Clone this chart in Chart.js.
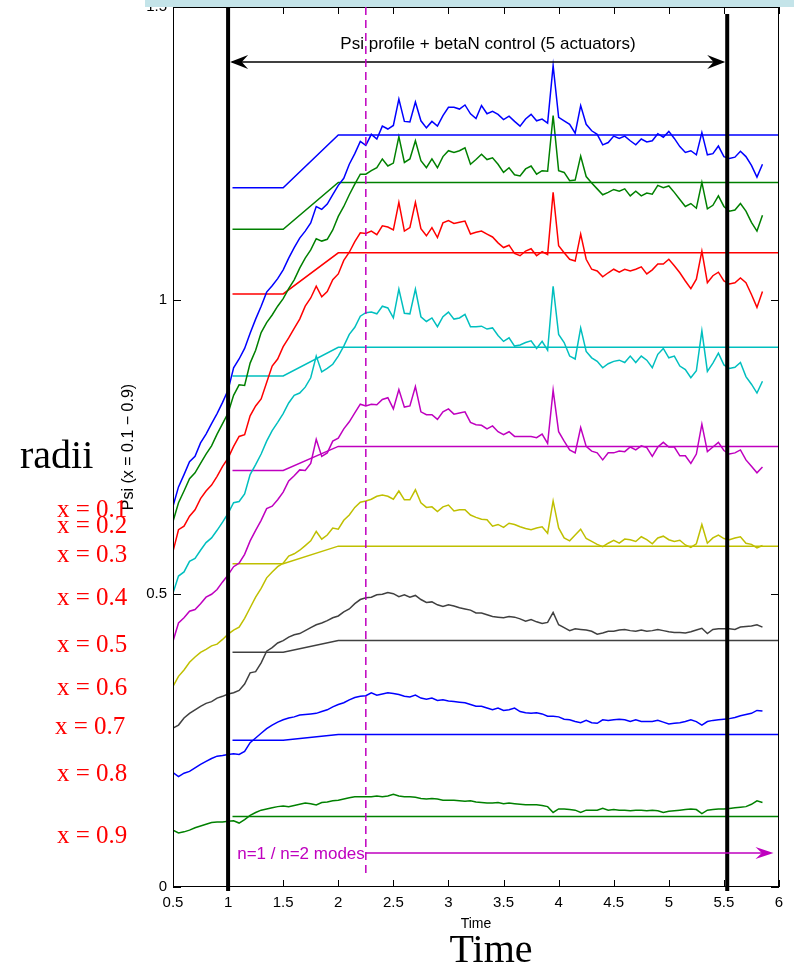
<!DOCTYPE html>
<html>
<head>
<meta charset="utf-8">
<script src="https://cdn.jsdelivr.net/npm/chart.js@4.4.1/dist/chart.umd.min.js"></script>
<style>
  html, body { margin: 0; padding: 0; background: #fff; }
  canvas { display: block; }
</style>
</head>
<body>
<canvas id="psiChart" width="794" height="968"></canvas>
<script>
// sample times (s)
const time = [
  0.5, 0.55, 0.6, 0.65, 0.7, 0.75, 0.8, 0.85, 0.9, 0.95,
  1.0, 1.05, 1.1, 1.15, 1.2, 1.25, 1.3, 1.35, 1.4, 1.45,
  1.5, 1.55, 1.6, 1.65, 1.7, 1.75, 1.8, 1.85, 1.9, 1.95,
  2.0, 2.05, 2.1, 2.15, 2.2, 2.25, 2.3, 2.35, 2.4, 2.45,
  2.5, 2.55, 2.6, 2.65, 2.7, 2.75, 2.8, 2.85, 2.9, 2.95,
  3.0, 3.05, 3.1, 3.15, 3.2, 3.25, 3.3, 3.35, 3.4, 3.45,
  3.5, 3.55, 3.6, 3.65, 3.7, 3.75, 3.8, 3.85, 3.9, 3.95,
  4.0, 4.05, 4.1, 4.15, 4.2, 4.25, 4.3, 4.35, 4.4, 4.45,
  4.5, 4.55, 4.6, 4.65, 4.7, 4.75, 4.8, 4.85, 4.9, 4.95,
  5.0, 5.05, 5.1, 5.15, 5.2, 5.25, 5.3, 5.35, 5.4, 5.45,
  5.5, 5.55, 5.6, 5.65, 5.7, 5.75, 5.8, 5.85
];

// measured Psi at each radius
const psi01 = [
  0.649, 0.682, 0.703, 0.725, 0.734, 0.757, 0.772, 0.790, 0.807, 0.826,
  0.847, 0.885, 0.900, 0.918, 0.944, 0.968, 0.990, 1.014, 1.025, 1.037,
  1.052, 1.072, 1.090, 1.106, 1.118, 1.132, 1.160, 1.155, 1.164, 1.180,
  1.196, 1.208, 1.232, 1.250, 1.271, 1.264, 1.283, 1.275, 1.297, 1.292,
  1.298, 1.343, 1.305, 1.304, 1.338, 1.306, 1.294, 1.305, 1.297, 1.315,
  1.329, 1.329, 1.326, 1.333, 1.318, 1.310, 1.332, 1.318, 1.322, 1.317,
  1.308, 1.314, 1.305, 1.297, 1.309, 1.317, 1.306, 1.309, 1.302, 1.400,
  1.312, 1.306, 1.300, 1.285, 1.332, 1.300, 1.289, 1.283, 1.265, 1.269,
  1.280, 1.276, 1.280, 1.272, 1.265, 1.275, 1.270, 1.272, 1.284, 1.278,
  1.288, 1.276, 1.262, 1.252, 1.255, 1.248, 1.286, 1.248, 1.250, 1.263,
  1.245, 1.242, 1.244, 1.254, 1.245, 1.230, 1.210, 1.232
];
const psi02 = [
  0.623, 0.655, 0.675, 0.696, 0.706, 0.722, 0.738, 0.752, 0.772, 0.790,
  0.808, 0.838, 0.856, 0.855, 0.893, 0.915, 0.945, 0.962, 0.975, 0.990,
  1.003, 1.020, 1.035, 1.055, 1.072, 1.086, 1.105, 1.101, 1.104, 1.120,
  1.143, 1.160, 1.180, 1.198, 1.215, 1.215, 1.221, 1.226, 1.241, 1.229,
  1.234, 1.279, 1.235, 1.241, 1.272, 1.238, 1.226, 1.241, 1.226, 1.245,
  1.255, 1.252, 1.255, 1.260, 1.232, 1.240, 1.249, 1.240, 1.243, 1.232,
  1.218, 1.226, 1.214, 1.212, 1.224, 1.229, 1.215, 1.221, 1.220, 1.315,
  1.221, 1.218, 1.204, 1.205, 1.246, 1.211, 1.200, 1.190, 1.180, 1.184,
  1.189, 1.186, 1.190, 1.178, 1.186, 1.178, 1.183, 1.181, 1.196, 1.192,
  1.195, 1.184, 1.172, 1.160, 1.165, 1.157, 1.201, 1.156, 1.162, 1.178,
  1.160, 1.152, 1.154, 1.165, 1.152, 1.133, 1.118, 1.145
];
const psi03 = [
  0.572, 0.609, 0.615, 0.632, 0.643, 0.662, 0.675, 0.685, 0.700, 0.717,
  0.731, 0.751, 0.768, 0.771, 0.803, 0.820, 0.832, 0.860, 0.888, 0.900,
  0.921, 0.936, 0.952, 0.968, 0.990, 1.004, 1.024, 1.006, 1.015, 1.035,
  1.045, 1.068, 1.082, 1.100, 1.115, 1.114, 1.118, 1.112, 1.127, 1.125,
  1.120, 1.167, 1.118, 1.124, 1.167, 1.122, 1.110, 1.124, 1.107, 1.132,
  1.136, 1.131, 1.133, 1.135, 1.113, 1.116, 1.118, 1.113, 1.108, 1.098,
  1.090, 1.094, 1.080, 1.076, 1.084, 1.088, 1.076, 1.083, 1.078, 1.184,
  1.093, 1.081, 1.070, 1.067, 1.113, 1.070, 1.053, 1.050, 1.040, 1.047,
  1.053, 1.048, 1.053, 1.050, 1.053, 1.057, 1.045, 1.052, 1.062, 1.062,
  1.070, 1.059, 1.047, 1.033, 1.020, 1.036, 1.084, 1.030, 1.042, 1.048,
  1.033, 1.028, 1.030, 1.038, 1.030, 1.010, 0.988, 1.015
];
const psi04 = [
  0.501, 0.530, 0.537, 0.555, 0.560, 0.574, 0.587, 0.595, 0.608, 0.622,
  0.637, 0.655, 0.657, 0.670, 0.703, 0.720, 0.738, 0.760, 0.778, 0.792,
  0.807, 0.825, 0.838, 0.842, 0.852, 0.868, 0.905, 0.878, 0.884, 0.891,
  0.905, 0.922, 0.942, 0.954, 0.973, 0.979, 0.980, 0.977, 0.990, 0.987,
  0.970, 1.019, 0.978, 0.977, 1.019, 0.972, 0.964, 0.970, 0.955, 0.972,
  0.980, 0.968, 0.970, 0.976, 0.955, 0.955, 0.956, 0.951, 0.953, 0.940,
  0.930, 0.936, 0.922, 0.924, 0.928, 0.931, 0.918, 0.930, 0.915, 1.024,
  0.942, 0.928, 0.905, 0.900, 0.953, 0.913, 0.902, 0.896, 0.885, 0.892,
  0.896, 0.898, 0.894, 0.905, 0.894, 0.905, 0.898, 0.885, 0.908, 0.918,
  0.902, 0.905, 0.888, 0.882, 0.868, 0.880, 0.948, 0.879, 0.893, 0.910,
  0.890, 0.884, 0.886, 0.894, 0.870, 0.857, 0.842, 0.862
];
const psi05 = [
  0.419, 0.450, 0.459, 0.470, 0.473, 0.483, 0.494, 0.499, 0.507, 0.520,
  0.532, 0.546, 0.552, 0.567, 0.590, 0.608, 0.625, 0.645, 0.649, 0.660,
  0.673, 0.692, 0.701, 0.711, 0.710, 0.722, 0.763, 0.734, 0.740, 0.760,
  0.765, 0.781, 0.793, 0.808, 0.823, 0.820, 0.823, 0.822, 0.831, 0.834,
  0.815, 0.848, 0.818, 0.820, 0.853, 0.810, 0.805, 0.805, 0.797, 0.810,
  0.815, 0.806, 0.808, 0.810, 0.792, 0.788, 0.787, 0.781, 0.786, 0.776,
  0.771, 0.776, 0.768, 0.768, 0.768, 0.768, 0.766, 0.772, 0.756, 0.847,
  0.776, 0.760, 0.745, 0.740, 0.783, 0.751, 0.743, 0.740, 0.728, 0.740,
  0.740, 0.743, 0.742, 0.750, 0.745, 0.752, 0.749, 0.734, 0.750, 0.758,
  0.750, 0.750, 0.735, 0.735, 0.722, 0.738, 0.789, 0.742, 0.750, 0.758,
  0.744, 0.738, 0.740, 0.745, 0.728, 0.717, 0.706, 0.716
];
const psi06 = [
  0.342, 0.359, 0.370, 0.383, 0.392, 0.400, 0.405, 0.411, 0.414, 0.422,
  0.431, 0.438, 0.443, 0.458, 0.476, 0.494, 0.509, 0.527, 0.537, 0.546,
  0.552, 0.564, 0.568, 0.574, 0.582, 0.590, 0.606, 0.593, 0.600, 0.612,
  0.610, 0.625, 0.634, 0.647, 0.656, 0.658, 0.661, 0.666, 0.668, 0.666,
  0.661, 0.675, 0.660, 0.660, 0.677, 0.655, 0.647, 0.648, 0.640, 0.648,
  0.651, 0.641, 0.643, 0.643, 0.634, 0.630, 0.627, 0.626, 0.615, 0.618,
  0.613, 0.620, 0.618, 0.614, 0.611, 0.609, 0.612, 0.614, 0.603, 0.658,
  0.612, 0.595, 0.590, 0.600, 0.610, 0.594, 0.589, 0.584, 0.580, 0.586,
  0.591, 0.586, 0.593, 0.592, 0.589, 0.597, 0.592, 0.585, 0.595, 0.598,
  0.592, 0.589, 0.591, 0.583, 0.579, 0.585, 0.618, 0.586, 0.595, 0.600,
  0.594, 0.592, 0.595, 0.597, 0.586, 0.584, 0.578, 0.582
];
const psi07 = [
  0.271, 0.276, 0.288, 0.296, 0.302, 0.308, 0.313, 0.316, 0.322, 0.325,
  0.329, 0.331, 0.335, 0.346, 0.365, 0.367, 0.382, 0.402, 0.408, 0.416,
  0.420, 0.426, 0.430, 0.432, 0.437, 0.442, 0.447, 0.450, 0.454, 0.459,
  0.462, 0.469, 0.474, 0.483, 0.490, 0.493, 0.494, 0.498, 0.499, 0.502,
  0.500, 0.495, 0.498, 0.494, 0.497, 0.490, 0.485, 0.486, 0.481, 0.478,
  0.481, 0.479, 0.476, 0.474, 0.472, 0.467, 0.467, 0.464, 0.461, 0.460,
  0.459, 0.461, 0.460, 0.457, 0.453, 0.456, 0.452, 0.449, 0.451, 0.468,
  0.447, 0.442, 0.437, 0.440, 0.439, 0.438, 0.436, 0.431, 0.433, 0.436,
  0.436, 0.438, 0.439, 0.437, 0.436, 0.438, 0.436, 0.437, 0.439, 0.437,
  0.435, 0.434, 0.434, 0.433, 0.435, 0.438, 0.441, 0.432, 0.439, 0.440,
  0.440, 0.440, 0.439, 0.443, 0.444, 0.445, 0.447, 0.443
];
const psi08 = [
  0.195, 0.188, 0.194, 0.197, 0.203, 0.209, 0.214, 0.219, 0.223, 0.224,
  0.226, 0.227, 0.226, 0.231, 0.246, 0.254, 0.262, 0.270, 0.276, 0.281,
  0.285, 0.288, 0.290, 0.293, 0.294, 0.295, 0.296, 0.299, 0.302, 0.307,
  0.311, 0.314, 0.319, 0.323, 0.325, 0.326, 0.331, 0.327, 0.329, 0.331,
  0.330, 0.328, 0.325, 0.324, 0.327, 0.322, 0.320, 0.322, 0.318, 0.319,
  0.317, 0.316, 0.315, 0.314, 0.311, 0.308, 0.308, 0.305, 0.302, 0.305,
  0.301, 0.302, 0.305, 0.299, 0.297, 0.296, 0.297, 0.295, 0.291, 0.291,
  0.290, 0.286, 0.285, 0.282, 0.280, 0.284, 0.280, 0.279, 0.285, 0.284,
  0.285, 0.286, 0.285, 0.282, 0.285, 0.282, 0.282, 0.282, 0.284, 0.281,
  0.278, 0.279, 0.280, 0.282, 0.285, 0.282, 0.276, 0.282, 0.284, 0.285,
  0.286, 0.287, 0.289, 0.292, 0.294, 0.296, 0.301, 0.300
];
const psi09 = [
  0.097, 0.092, 0.094, 0.097, 0.101, 0.104, 0.107, 0.110, 0.111, 0.111,
  0.112, 0.113, 0.109, 0.115, 0.122, 0.127, 0.131, 0.133, 0.135, 0.137,
  0.138, 0.137, 0.139, 0.141, 0.143, 0.142, 0.140, 0.144, 0.145, 0.147,
  0.148, 0.150, 0.152, 0.154, 0.154, 0.154, 0.154, 0.155, 0.154, 0.155,
  0.158, 0.155, 0.154, 0.154, 0.153, 0.151, 0.150, 0.151, 0.150, 0.148,
  0.148, 0.148, 0.147, 0.146, 0.147, 0.145, 0.144, 0.143, 0.143, 0.144,
  0.142, 0.143, 0.142, 0.141, 0.140, 0.140, 0.140, 0.139, 0.137, 0.127,
  0.133, 0.133, 0.132, 0.131, 0.127, 0.131, 0.131, 0.131, 0.134, 0.131,
  0.132, 0.131, 0.131, 0.130, 0.131, 0.131, 0.130, 0.131, 0.130, 0.127,
  0.129, 0.130, 0.131, 0.132, 0.133, 0.132, 0.125, 0.131, 0.132, 0.133,
  0.133, 0.134, 0.135, 0.136, 0.137, 0.141, 0.147, 0.144
];

// requested Psi: flat, ramp between 1.5 s and 2 s, then flat
const rampTimes = [1.04, 1.5, 2.0, 6.0];
const targetBefore = [1.192, 1.121, 1.011, 0.871, 0.710, 0.551, 0.400, 0.250, 0.120];
const targetAfter = [1.282, 1.201, 1.081, 0.920, 0.751, 0.581, 0.420, 0.260, 0.120];

const radiusLabels = ["x = 0.1", "x = 0.2", "x = 0.3", "x = 0.4", "x = 0.5", "x = 0.6", "x = 0.7", "x = 0.8", "x = 0.9"];
const xTicks = [0.5, 1, 1.5, 2, 2.5, 3, 3.5, 4, 4.5, 5, 5.5, 6];
const yTicks = [0, 0.5, 1, 1.5];

// phases
const controlWindow = [1.0, 5.53];
const modesStart = 2.25;
const modesEnd = 5.95;

const series = [psi01, psi02, psi03, psi04, psi05, psi06, psi07, psi08, psi09];
const lineColors = ["#0000ff", "#008000", "#ff0000", "#00bfbf", "#bf00bf", "#bfbf00", "#404040", "#0000ff", "#008000"];
const labelBaselines = [517, 533, 562, 605, 652, 695, 734, 781, 843];

const sans = "'Liberation Sans', Arial, Helvetica, sans-serif";
const serif = "'Liberation Serif', 'Times New Roman', serif";

const datasets = [];
series.forEach((vals, i) => {
  datasets.push({
    label: radiusLabels[i],
    data: time.map((t, k) => ({ x: t, y: vals[k] })),
    borderColor: lineColors[i],
    borderWidth: 1.5,
  });
  datasets.push({
    label: radiusLabels[i] + " target",
    data: rampTimes.map((t, k) => ({ x: t, y: k < 2 ? targetBefore[i] : targetAfter[i] })),
    borderColor: lineColors[i],
    borderWidth: 1.5,
  });
});

function arrowHead(ctx, tipX, tipY, dir, len, half) {
  ctx.beginPath();
  ctx.moveTo(tipX, tipY);
  ctx.lineTo(tipX - dir * len, tipY - half);
  ctx.lineTo(tipX - dir * len * 0.65, tipY);
  ctx.lineTo(tipX - dir * len, tipY + half);
  ctx.closePath();
  ctx.fill();
}

// keep the plot box fixed: no extra room reserved for edge labels
function noEdgePadding(s) {
  s.paddingTop = 0;
  s.paddingBottom = 0;
  s.paddingLeft = 0;
  s.paddingRight = 0;
}

const annotations = {
  id: "annotations",
  afterDatasetsDraw(chart) {
    const { ctx, chartArea: a, scales: { x, y } } = chart;
    ctx.save();

    // axes box with inward ticks
    ctx.strokeStyle = "#000";
    ctx.lineWidth = 1;
    ctx.strokeRect(a.left + 0.5, a.top + 0.5, a.width - 1, a.height - 1);
    ctx.beginPath();
    xTicks.forEach((v) => {
      const px = Math.round(x.getPixelForValue(v)) + 0.5;
      ctx.moveTo(px, a.bottom); ctx.lineTo(px, a.bottom - 7);
      ctx.moveTo(px, a.top); ctx.lineTo(px, a.top + 7);
    });
    yTicks.forEach((v) => {
      const py = Math.round(y.getPixelForValue(v)) + 0.5;
      ctx.moveTo(a.left, py); ctx.lineTo(a.left + 8, py);
      ctx.moveTo(a.right, py); ctx.lineTo(a.right - 8, py);
    });
    ctx.stroke();

    // control window: thick bars and double arrow
    const x0 = x.getPixelForValue(controlWindow[0]);
    const x1 = x.getPixelForValue(controlWindow[1]);
    ctx.lineWidth = 4;
    ctx.beginPath();
    ctx.moveTo(x0, a.top); ctx.lineTo(x0, a.bottom + 4);
    ctx.moveTo(x1, a.top + 7); ctx.lineTo(x1, a.bottom + 4);
    ctx.stroke();

    const ay = 62;
    ctx.lineWidth = 1.5;
    ctx.fillStyle = "#000";
    ctx.beginPath();
    ctx.moveTo(x0 + 4, ay); ctx.lineTo(x1 - 4, ay);
    ctx.stroke();
    arrowHead(ctx, x0 + 2, ay, -1, 18, 7);
    arrowHead(ctx, x1 - 2, ay, 1, 18, 7);

    ctx.font = "17px " + sans;
    ctx.textAlign = "center";
    ctx.textBaseline = "alphabetic";
    ctx.fillText("Psi profile + betaN control (5 actuators)", 488, 49);

    // onset of n=1 / n=2 mode control
    const xm = x.getPixelForValue(modesStart);
    const xe = x.getPixelForValue(modesEnd);
    ctx.strokeStyle = "#bf00bf";
    ctx.fillStyle = "#bf00bf";
    ctx.lineWidth = 1.5;
    ctx.setLineDash([8, 5]);
    ctx.beginPath();
    ctx.moveTo(xm, a.top); ctx.lineTo(xm, a.bottom - 12);
    ctx.stroke();
    ctx.setLineDash([]);

    const my = 853;
    ctx.beginPath();
    ctx.moveTo(xm, my); ctx.lineTo(xe - 6, my);
    ctx.stroke();
    arrowHead(ctx, xe, my, 1, 18, 6);
    ctx.textAlign = "right";
    ctx.fillText("n=1 / n=2 modes", xm - 1, my + 6);

    ctx.restore();
  },
  afterDraw(chart) {
    const { ctx } = chart;
    ctx.save();

    // axis titles
    ctx.fillStyle = "#000";
    ctx.font = "14px " + sans;
    ctx.textAlign = "center";
    ctx.fillText("Time", 476, 928);
    ctx.save();
    ctx.translate(133, 447);
    ctx.rotate(-Math.PI / 2);
    ctx.font = "16px " + sans;
    ctx.fillText("Psi (x = 0.1 \u2212 0.9)", 0, 0);
    ctx.restore();

    ctx.font = "40px " + serif;
    ctx.fillText("Time", 491, 962);
    ctx.textAlign = "left";
    ctx.fillText("radii", 20, 468);

    ctx.fillStyle = "#ff0000";
    ctx.font = "25px " + serif;
    radiusLabels.forEach((lbl, i) => {
      ctx.fillText(lbl, i === 6 ? 55 : 57, labelBaselines[i]);
    });

    // strip across the top edge
    ctx.fillStyle = "#c4e4e9";
    ctx.fillRect(145, 0, 649, 7);
    ctx.restore();
  }
};

new Chart(document.getElementById("psiChart"), {
  type: "line",
  data: { datasets },
  options: {
    responsive: false,
    animation: false,
    events: [],
    parsing: false,
    layout: { padding: { top: 7, right: 15, bottom: 0, left: 0 } },
    elements: { point: { radius: 0 }, line: { tension: 0 } },
    plugins: { legend: { display: false }, tooltip: { enabled: false } },
    scales: {
      x: {
        type: "linear",
        min: 0.5,
        max: 6,
        afterBuildTicks: (s) => { s.ticks = xTicks.map((v) => ({ value: v })); },
        afterFit: (s) => { s.height = 81; noEdgePadding(s); },
        grid: { display: false, drawTicks: false },
        border: { display: false },
        ticks: {
          color: "#000", font: { family: sans, size: 15 }, padding: 7, maxRotation: 0, autoSkip: false,
          callback: (v) => String(v),
        },
      },
      y: {
        type: "linear",
        min: 0,
        max: 1.5,
        afterBuildTicks: (s) => { s.ticks = yTicks.map((v) => ({ value: v })); },
        afterFit: (s) => { s.width = 173; noEdgePadding(s); },
        grid: { display: false, drawTicks: false },
        border: { display: false },
        ticks: { color: "#000", font: { family: sans, size: 15 }, padding: 6, callback: (v) => String(v) },
      },
    },
  },
  plugins: [annotations],
});
</script>
</body>
</html>
